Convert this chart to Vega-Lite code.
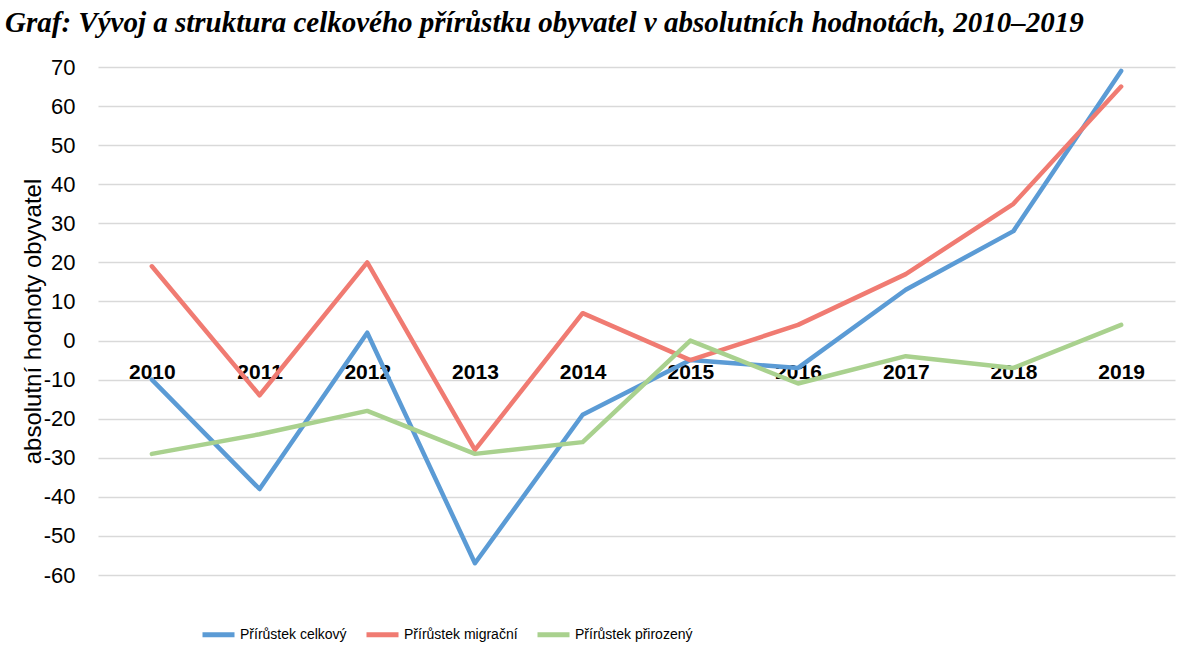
{
  "$schema": "https://vega.github.io/schema/vega-lite/v6.json",
  "autosize": "none",
  "width": 1077,
  "height": 508,
  "padding": {"left": 98, "top": 67, "right": 19, "bottom": 89},
  "background": "white",
  "title": {
    "text": "Graf: Vývoj a struktura celkového přírůstku obyvatel v absolutních hodnotách, 2010–2019",
    "anchor": "start",
    "frame": "group",
    "dx": -93,
    "offset": 18,
    "font": "Liberation Serif",
    "fontSize": 29,
    "fontWeight": "bold",
    "fontStyle": "italic",
    "color": "black"
  },
  "config": {
    "view": {"stroke": null},
    "font": "Liberation Sans"
  },
  "data": {
    "values": [
      {"rok": "2010", "serie": "Přírůstek celkový", "hodnota": -10},
      {"rok": "2011", "serie": "Přírůstek celkový", "hodnota": -38},
      {"rok": "2012", "serie": "Přírůstek celkový", "hodnota": 2},
      {"rok": "2013", "serie": "Přírůstek celkový", "hodnota": -57},
      {"rok": "2014", "serie": "Přírůstek celkový", "hodnota": -19},
      {"rok": "2015", "serie": "Přírůstek celkový", "hodnota": -5},
      {"rok": "2016", "serie": "Přírůstek celkový", "hodnota": -7},
      {"rok": "2017", "serie": "Přírůstek celkový", "hodnota": 13},
      {"rok": "2018", "serie": "Přírůstek celkový", "hodnota": 28},
      {"rok": "2019", "serie": "Přírůstek celkový", "hodnota": 69},
      {"rok": "2010", "serie": "Přírůstek migrační", "hodnota": 19},
      {"rok": "2011", "serie": "Přírůstek migrační", "hodnota": -14},
      {"rok": "2012", "serie": "Přírůstek migrační", "hodnota": 20},
      {"rok": "2013", "serie": "Přírůstek migrační", "hodnota": -28},
      {"rok": "2014", "serie": "Přírůstek migrační", "hodnota": 7},
      {"rok": "2015", "serie": "Přírůstek migrační", "hodnota": -5},
      {"rok": "2016", "serie": "Přírůstek migrační", "hodnota": 4},
      {"rok": "2017", "serie": "Přírůstek migrační", "hodnota": 17},
      {"rok": "2018", "serie": "Přírůstek migrační", "hodnota": 35},
      {"rok": "2019", "serie": "Přírůstek migrační", "hodnota": 65},
      {"rok": "2010", "serie": "Přírůstek přirozený", "hodnota": -29},
      {"rok": "2011", "serie": "Přírůstek přirozený", "hodnota": -24},
      {"rok": "2012", "serie": "Přírůstek přirozený", "hodnota": -18},
      {"rok": "2013", "serie": "Přírůstek přirozený", "hodnota": -29},
      {"rok": "2014", "serie": "Přírůstek přirozený", "hodnota": -26},
      {"rok": "2015", "serie": "Přírůstek přirozený", "hodnota": 0},
      {"rok": "2016", "serie": "Přírůstek přirozený", "hodnota": -11},
      {"rok": "2017", "serie": "Přírůstek přirozený", "hodnota": -4},
      {"rok": "2018", "serie": "Přírůstek přirozený", "hodnota": -7},
      {"rok": "2019", "serie": "Přírůstek přirozený", "hodnota": 4}
    ]
  },
  "mark": {"type": "line", "strokeWidth": 4.5, "strokeJoin": "round", "strokeCap": "round"},
  "encoding": {
    "x": {
      "field": "rok",
      "type": "ordinal",
      "scale": {"type": "point", "padding": 0.5},
      "axis": {
        "title": null,
        "orient": "bottom",
        "offset": -234,
        "domain": false,
        "ticks": false,
        "grid": false,
        "labelAngle": 0,
        "labelFontSize": 21,
        "labelFontWeight": "bold",
        "labelColor": "black",
        "labelPadding": 20
      }
    },
    "y": {
      "field": "hodnota",
      "type": "quantitative",
      "scale": {"domain": [-60, 70], "nice": false, "zero": false},
      "axis": {
        "title": "absolutní hodnoty obyvatel",
        "titleFontSize": 24,
        "titleFontWeight": "normal",
        "titleColor": "black",
        "titlePadding": -2,
        "values": [-60, -50, -40, -30, -20, -10, 0, 10, 20, 30, 40, 50, 60, 70],
        "labelExpr": "replace(datum.label, '−', '-')",
        "domain": false,
        "ticks": false,
        "labelFontSize": 22,
        "labelColor": "black",
        "labelPadding": 23,
        "gridColor": "#D9D9D9",
        "gridWidth": 1.5
      }
    },
    "color": {
      "field": "serie",
      "type": "nominal",
      "scale": {
        "domain": ["Přírůstek celkový", "Přírůstek migrační", "Přírůstek přirozený"],
        "range": ["#5B9BD5", "#F07B72", "#A9D18E"]
      },
      "legend": {
        "title": null,
        "orient": "none",
        "direction": "horizontal",
        "legendX": 102,
        "legendY": 549,
        "symbolType": "stroke",
        "symbolStrokeWidth": 5,
        "symbolSize": 1024,
        "labelFontSize": 14,
        "labelColor": "black",
        "labelOffset": 3,
        "columnPadding": 9
      }
    }
  }
}
